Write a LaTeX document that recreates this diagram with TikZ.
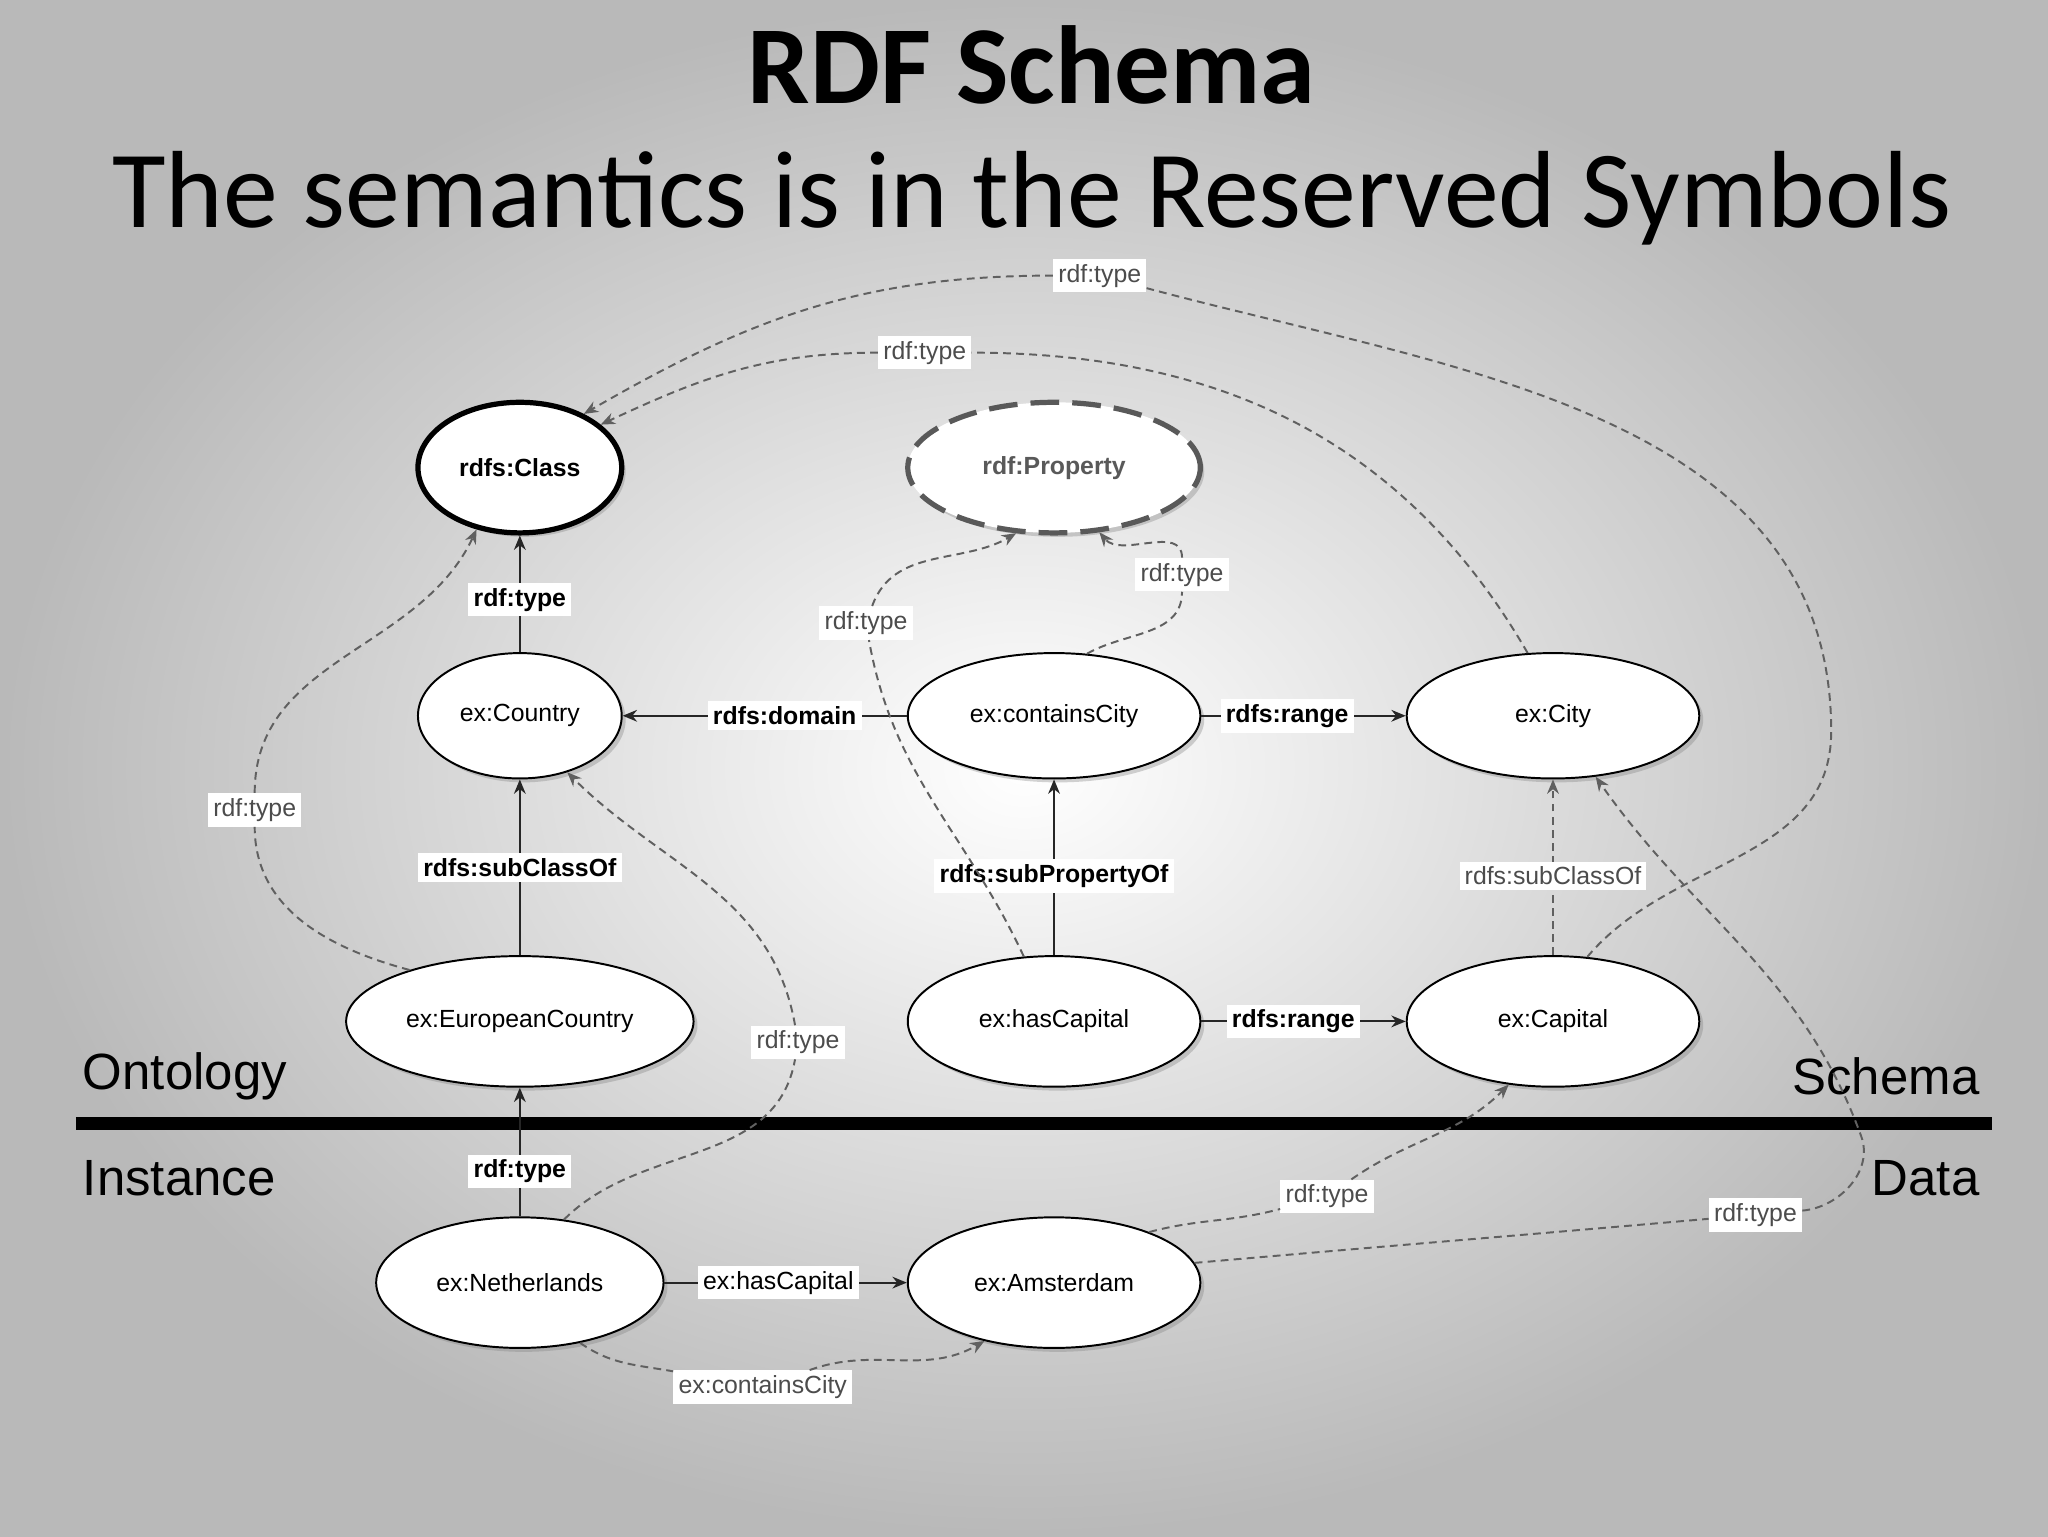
\documentclass[tikz,border=0pt]{standalone}
\usepackage{fontspec}
\setmainfont{Liberation Sans}
\newfontfamily\titlefont{Carlito}
\usetikzlibrary{shapes.geometric,arrows.meta,shadows}
\begin{document}
\begin{tikzpicture}[x=1pt,y=1pt,
  ell/.style={ellipse,draw=black,line width=1.5pt,fill=white,inner sep=0pt,font=\fontsize{19}{22}\selectfont,drop shadow={opacity=0.35,shadow xshift=3pt,shadow yshift=-3pt}},
  lab/.style={fill=white,inner sep=4pt,font=\fontsize{19}{22}\selectfont},
  blab/.style={lab,font=\fontsize{19}{22}\selectfont\bfseries},
  glab/.style={lab,text=gray!60!black},
  sedge/.style={line width=1.5pt,draw=black!85},
  dedge/.style={line width=1.5pt,draw=gray!75!black,dash pattern=on 6pt off 4pt},
  arr/.style={-{Stealth[length=11pt,width=9pt]}}
]
\shade[inner color=white,outer color=gray!55] (0,0) rectangle (1568,-1176);
\useasboundingbox (0,0) rectangle (1568,-1176);
\node[font=\titlefont\fontsize{85}{90}\selectfont\bfseries] (t1) at (790,-50) {RDF Schema};
\node[font=\titlefont\fontsize{84}{90}\selectfont] (t2) at (790,-152) {The semantics is in the Reserved Symbols};

\node[ell,line width=4pt,minimum width=156pt,minimum height=100pt,font=\fontsize{19}{22}\selectfont\bfseries] (class) at (398,-358) {rdfs:Class};
\node[ell,draw=gray!70!black,line width=4pt,dash pattern=on 22pt off 10pt,minimum width=224pt,minimum height=100pt,font=\fontsize{19}{22}\selectfont\bfseries,text=gray!70!black] (prop) at (807,-358) {rdf:Property};
\node[ell,minimum width=156pt,minimum height=96pt] (country) at (398,-548) {ex:Country};
\node[ell,minimum width=224pt,minimum height=96pt] (cc) at (807,-548) {ex:containsCity};
\node[ell,minimum width=224pt,minimum height=96pt] (city) at (1189,-548) {ex:City};
\node[ell,minimum width=266pt,minimum height=100pt] (eu) at (398,-782) {ex:EuropeanCountry};
\node[ell,minimum width=224pt,minimum height=100pt] (hc) at (807,-782) {ex:hasCapital};
\node[ell,minimum width=224pt,minimum height=100pt] (cap) at (1189,-782) {ex:Capital};
\node[ell,minimum width=220pt,minimum height=100pt] (nl) at (398,-982) {ex:Netherlands};
\node[ell,minimum width=224pt,minimum height=100pt] (am) at (807,-982) {ex:Amsterdam};

\coordinate (la) at (58,-860); \coordinate (lb) at (1525,-860);
\draw[line width=10pt] (la) -- (lb);
\node[anchor=west,font=\fontsize{39}{43}\selectfont] (onto) at (60,-824) {Ontology};
\node[anchor=east,font=\fontsize{39}{43}\selectfont] (sch) at (1519,-824) {Schema};
\node[anchor=west,font=\fontsize{39}{43}\selectfont] (inst) at (60,-902) {Instance};
\node[anchor=east,font=\fontsize{39}{43}\selectfont] (data) at (1519,-902) {Data};

% solid edges
\draw[sedge,arr] (country) -- node[blab,pos=0.45]{rdf:type} (class);
\draw[sedge,arr] (eu) -- node[blab,pos=0.5]{rdfs:subClassOf} (country);
\draw[sedge,arr] (nl) -- node[blab,pos=0.35]{rdf:type} (eu);
\draw[sedge,arr] (cc) -- node[blab,pos=0.43]{rdfs:domain} (country);
\draw[sedge,arr] (cc) -- node[blab,pos=0.42]{rdfs:range} (city);
\draw[sedge,arr] (hc) -- node[blab,pos=0.45]{rdfs:subPropertyOf} (cc);
\draw[sedge,arr] (hc) -- node[blab,pos=0.45]{rdfs:range} (cap);
\draw[sedge,arr] (nl) -- node[lab,pos=0.47]{ex:hasCapital} (am);

% dashed edges
\draw[dedge,arr] (cap) -- node[glab,pos=0.45]{rdfs:subClassOf} (city);

\node[glab] (l1) at (195,-620) {rdf:type};
\draw[dedge] (eu.155) to[out=165,in=-90] (l1);
\draw[dedge,arr] (l1) to[out=90,in=-115] (class.235);

\node[glab] (l2) at (611,-798) {rdf:type};
\draw[dedge] (nl.55) to[out=45,in=-100] (l2);
\draw[dedge,arr] (l2) to[out=100,in=-45] (country.-50);

\node[glab] (l3) at (663,-477) {rdf:type};
\draw[dedge] (hc.115) to[out=115,in=-80] (l3);
\draw[dedge,arr] (l3) to[out=70,in=-150] (prop.240);

\node[glab] (l4) at (905,-440) {rdf:type};
\draw[dedge] (cc.62) to[out=30,in=-90] (l4);
\draw[dedge,arr] (l4) to[out=90,in=-50] (prop.-55);

\node[glab] (l5) at (708,-270) {rdf:type};
\draw[dedge] (city.112) to[out=120,in=0] (l5);
\draw[dedge,arr] (l5) to[out=180,in=25] (class.28);

\node[glab] (l6) at (842,-211) {rdf:type};
\coordinate (k1) at (1402,-560);
\draw[dedge] (cap.62) to[out=50,in=-90] (k1) to[out=90,in=-15] (l6);
\draw[dedge,arr] (l6) to[out=180,in=30] (class.40);

\node[glab] (l7) at (1016,-916) {rdf:type};
\draw[dedge] (am.28) to[out=15,in=195] (l7);
\draw[dedge,arr] (l7) to[out=35,in=-135] (cap.235);

\node[glab] (l8) at (1344,-930) {rdf:type};
\coordinate (k2) at (1425,-870);
\draw[dedge] (am.8) to[out=5,in=185] (l8);
\draw[dedge,arr] (l8) to[out=5,in=-70] (k2) to[out=110,in=-55] (city.-55);

\node[glab] (l9) at (584,-1062) {ex:containsCity};
\draw[dedge] (nl.-45) to[out=-35,in=170] (l9);
\draw[dedge,arr] (l9) to[out=20,in=-150] (am.-140);
\end{tikzpicture}
\end{document}
